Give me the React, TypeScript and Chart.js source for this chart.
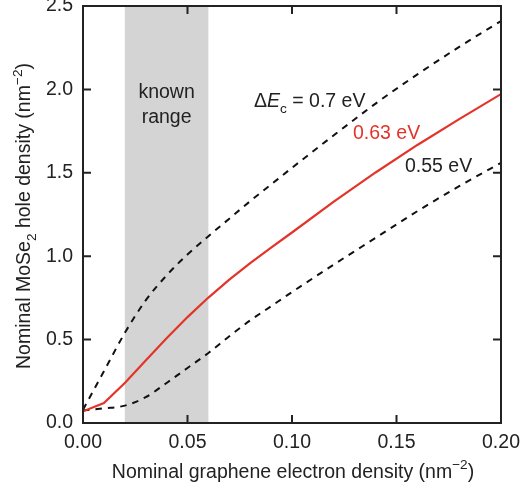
import React, { useEffect, useRef } from "react";
import { Chart, registerables } from "chart.js";

Chart.register(...registerables);

// ---- data ----
const grapheneDensity = [0, 0.01, 0.02, 0.03, 0.04, 0.05, 0.06, 0.07, 0.08, 0.09, 0.1, 0.12, 0.14, 0.16, 0.18, 0.2];
const hole070 = [0.08, 0.31, 0.54, 0.735, 0.885, 1.01, 1.12, 1.225, 1.33, 1.43, 1.53, 1.725, 1.915, 2.09, 2.255, 2.41];
const hole063 = [0.07, 0.12, 0.24, 0.375, 0.508, 0.635, 0.752, 0.86, 0.958, 1.052, 1.142, 1.327, 1.502, 1.667, 1.822, 1.972];
const hole055 = [0.075, 0.088, 0.104, 0.155, 0.24, 0.33, 0.42, 0.52, 0.615, 0.7, 0.785, 0.95, 1.11, 1.27, 1.42, 1.56];
const knownRange = [0.02, 0.06];
const xTicks = [0, 0.05, 0.1, 0.15, 0.2];
const yTicks = [0, 0.5, 1.0, 1.5, 2.0, 2.5];

const FONT = '"Liberation Sans", Arial, Helvetica, sans-serif';
const FS = 19.5;
const RED = "#e3342a";
const INK = "#222222";

type Part = { t: string; s?: "sub" | "sup"; i?: boolean };

function drawRich(ctx: CanvasRenderingContext2D, parts: Part[], x: number, y: number, align: "left" | "center", size: number, color: string) {
  const fontFor = (p: Part) => `${p.i ? "italic " : ""}${p.s ? size * 0.7 : size}px ${FONT}`;
  let total = 0;
  const widths = parts.map((p) => {
    ctx.font = fontFor(p);
    const w = ctx.measureText(p.t).width;
    total += w;
    return w;
  });
  let cx = align === "center" ? x - total / 2 : x;
  ctx.fillStyle = color;
  ctx.textAlign = "left";
  ctx.textBaseline = "alphabetic";
  parts.forEach((p, k) => {
    ctx.font = fontFor(p);
    const dy = p.s === "sub" ? size * 0.3 : p.s === "sup" ? -size * 0.42 : 0;
    ctx.fillText(p.t, cx, y + dy);
    cx += widths[k];
  });
}

const decorPlugin = {
  id: "decor",
  beforeDatasetsDraw(chart: any) {
    const { ctx, chartArea, scales } = chart;
    const x0 = scales.x.getPixelForValue(knownRange[0]);
    const x1 = scales.x.getPixelForValue(knownRange[1]);
    ctx.save();
    ctx.fillStyle = "#d4d4d4";
    ctx.fillRect(x0, chartArea.top, x1 - x0, chartArea.bottom - chartArea.top);
    ctx.restore();
  },
  afterDraw(chart: any) {
    const { ctx, chartArea: a, scales } = chart;
    const xs = scales.x;
    const ys = scales.y;
    ctx.save();
    // frame
    ctx.strokeStyle = INK;
    ctx.lineWidth = 2;
    ctx.strokeRect(a.left, a.top, a.right - a.left, a.bottom - a.top);
    // inward ticks on all sides
    const tl = 8;
    ctx.beginPath();
    xTicks.forEach((v) => {
      const px = xs.getPixelForValue(v);
      ctx.moveTo(px, a.bottom);
      ctx.lineTo(px, a.bottom - tl);
      ctx.moveTo(px, a.top);
      ctx.lineTo(px, a.top + tl);
    });
    yTicks.forEach((v) => {
      const py = ys.getPixelForValue(v);
      ctx.moveTo(a.left, py);
      ctx.lineTo(a.left + tl, py);
      ctx.moveTo(a.right, py);
      ctx.lineTo(a.right - tl, py);
    });
    ctx.stroke();

    // annotations
    const kx = xs.getPixelForValue((knownRange[0] + knownRange[1]) / 2);
    drawRich(ctx, [{ t: "known" }], kx, 97.5, "center", FS, INK);
    drawRich(ctx, [{ t: "range" }], kx, 122.5, "center", FS, INK);
    drawRich(ctx, [{ t: "\u0394" }, { t: "E", i: true }, { t: "c", s: "sub" }, { t: " = 0.7 eV" }], 254, 107, "left", FS, INK);
    drawRich(ctx, [{ t: "0.63 eV" }], 353, 139, "left", FS, RED);
    drawRich(ctx, [{ t: "0.55 eV" }], 405, 172, "left", FS, INK);

    // axis titles
    drawRich(ctx, [{ t: "Nominal graphene electron density (nm" }, { t: "\u22122", s: "sup" }, { t: ")" }], 293, 477.5, "center", FS, INK);
    ctx.translate(30, 216);
    ctx.rotate(-Math.PI / 2);
    drawRich(ctx, [{ t: "Nominal MoSe" }, { t: "2", s: "sub" }, { t: " hole density (nm" }, { t: "\u22122", s: "sup" }, { t: ")" }], 0, 0, "center", FS, INK);
    ctx.restore();
  },
};

export default function App() {
  const ref = useRef<HTMLCanvasElement | null>(null);
  useEffect(() => {
    document.body.style.margin = "0";
    const mk = (ys: number[]) => grapheneDensity.map((x, i) => ({ x, y: ys[i] }));
    const chart = new Chart(ref.current as HTMLCanvasElement, {
      type: "line",
      data: {
        datasets: [
          { label: "0.7 eV", data: mk(hole070), borderColor: "#111", borderWidth: 2, borderDash: [6.5, 6], pointRadius: 0, cubicInterpolationMode: "monotone", fill: false },
          { label: "0.63 eV", data: mk(hole063), borderColor: RED, borderWidth: 2.2, pointRadius: 0, tension: 0, fill: false },
          { label: "0.55 eV", data: mk(hole055), borderColor: "#111", borderWidth: 2, borderDash: [6.5, 6], pointRadius: 0, cubicInterpolationMode: "monotone", fill: false },
        ],
      },
      options: {
        animation: false,
        responsive: true,
        maintainAspectRatio: false,
        layout: { padding: { left: 0, top: 6, right: 19, bottom: 0 } },
        plugins: { legend: { display: false }, tooltip: { enabled: false } },
        scales: {
          x: {
            type: "linear",
            min: 0,
            max: 0.2,
            grid: { display: false, drawTicks: false },
            border: { display: false },
            afterBuildTicks: (s: any) => { s.ticks = xTicks.map((v) => ({ value: v })); },
            ticks: { padding: 8, color: INK, font: { family: FONT, size: FS }, callback: (v: any) => Number(v).toFixed(2), maxRotation: 0 },
            afterFit: (s: any) => { s.height = 66; s.paddingLeft = 0; s.paddingRight = 0; },
          },
          y: {
            type: "linear",
            min: 0,
            max: 2.5,
            grid: { display: false, drawTicks: false },
            border: { display: false },
            afterBuildTicks: (s: any) => { s.ticks = yTicks.map((v) => ({ value: v })); },
            ticks: { padding: 10, color: INK, font: { family: FONT, size: FS }, callback: (v: any) => Number(v).toFixed(1) },
            afterFit: (s: any) => { s.width = 83; s.paddingTop = 0; s.paddingBottom = 0; },
          },
        },
      },
      plugins: [decorPlugin],
    });
    return () => chart.destroy();
  }, []);
  return (
    <div style={{ position: "absolute", left: 0, top: 0, width: 520, height: 489 }}>
      <canvas ref={ref} />
    </div>
  );
}
